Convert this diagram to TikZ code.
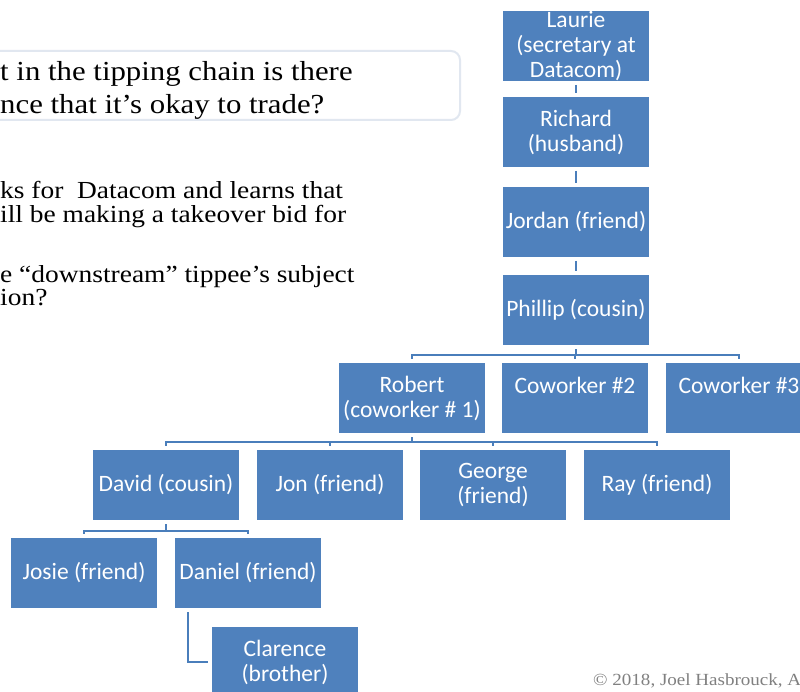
\documentclass[tikz,border=0pt]{standalone}
\usepackage{fontspec}
\setmainfont{Liberation Serif}[FakeStretch=1.12]
\newfontfamily\boxfont{Carlito}
\usepackage{tikz}

\definecolor{boxblue}{HTML}{4F81BD}
\definecolor{lineblue}{HTML}{4A7EBB}
\definecolor{edgegray}{HTML}{E1E7F0}

\begin{document}
\begin{tikzpicture}[x=1pt, y=-1pt,
	person/.style={rectangle, fill=boxblue, draw=white, line width=4pt, minimum width=150pt, minimum height=74pt, inner sep=0pt, align=center, text=white, font=\boxfont\fontsize{23.5}{25}\selectfont},
	link/.style={draw=lineblue, line width=2.2pt}]
								\useasboundingbox (0,0) rectangle (800,692);
								\clip (0,0) rectangle (800,692);
								\fill[white] (0,0) rectangle (800,692);
								\draw[edgegray, line width=2pt, rounded corners=9pt] (-30,51) rectangle (460,120);
								\node[anchor=west, align=left, inner sep=0pt, font=\fontsize{27.5}{33}\selectfont] (q) at (0,90.5) {t in the tipping chain is there\\nce that it’s okay to trade?};
								\node[anchor=west, align=left, inner sep=0pt, font=\fontsize{24.5}{24}\selectfont] (p1) at (0,205) {ks for\ \ Datacom and learns that\\ill be making a takeover bid for};
								\node[anchor=west, align=left, inner sep=0pt, font=\fontsize{24.5}{23}\selectfont] (p2) at (0,286) {e “downstream” tippee’s subject\\ion?};
								\node[anchor=west, inner sep=0pt, text=black!50, font=\fontsize{17}{19}\selectfont] (copy) at (593,681) {© 2018, Joel Hasbrouck, A};
								\node[person] (laurie) at (576,46) {Laurie\\(secretary at\\Datacom)};
								\node[person] (richard) at (576,132) {Richard\\(husband)};
								\node[person] (jordan) at (576,222) {Jordan (friend)};
								\node[person] (phillip) at (576,310) {Phillip (cousin)};
								\node[person] (robert) at (412,398) {Robert\\(coworker \# 1)};
								\node[person] (cw2) at (575,398) {Coworker \#2\\\mbox{}};
								\node[person] (cw3) at (739,398) {Coworker \#3\\\mbox{}};
								\node[person] (david) at (166,485) {David (cousin)};
								\node[person] (jon) at (330,485) {Jon (friend)};
								\node[person] (george) at (493,485) {George\\(friend)};
								\node[person] (ray) at (657,485) {Ray (friend)};
								\node[person] (josie) at (84,573) {Josie (friend)};
								\node[person] (daniel) at (248,573) {Daniel (friend)};
								\node[person] (clarence) at (285,662) {Clarence\\(brother)};
								\draw[link] (laurie) -- (richard);
								\draw[link] (richard) -- (jordan);
								\draw[link] (jordan) -- (phillip);
								\draw[link] (phillip.south) -- ++(0,6) -| (robert.north);
								\draw[link] (phillip.south) -- ++(0,6) -| (cw2.north);
								\draw[link] (phillip.south) -- ++(0,6) -| (cw3.north);
								\draw[link] (robert.south) -- ++(0,5) -| (david.north);
								\draw[link] (robert.south) -- ++(0,5) -| (jon.north);
								\draw[link] (robert.south) -- ++(0,5) -| (george.north);
								\draw[link] (robert.south) -- ++(0,5) -| (ray.north);
								\draw[link] (david.south) -- ++(0,7) -| (josie.north);
								\draw[link] (david.south) -- ++(0,7) -| (daniel.north);
								\draw[link] ([xshift=-60pt]daniel.south) |- (clarence.west);
							\end{tikzpicture}
\end{document}
